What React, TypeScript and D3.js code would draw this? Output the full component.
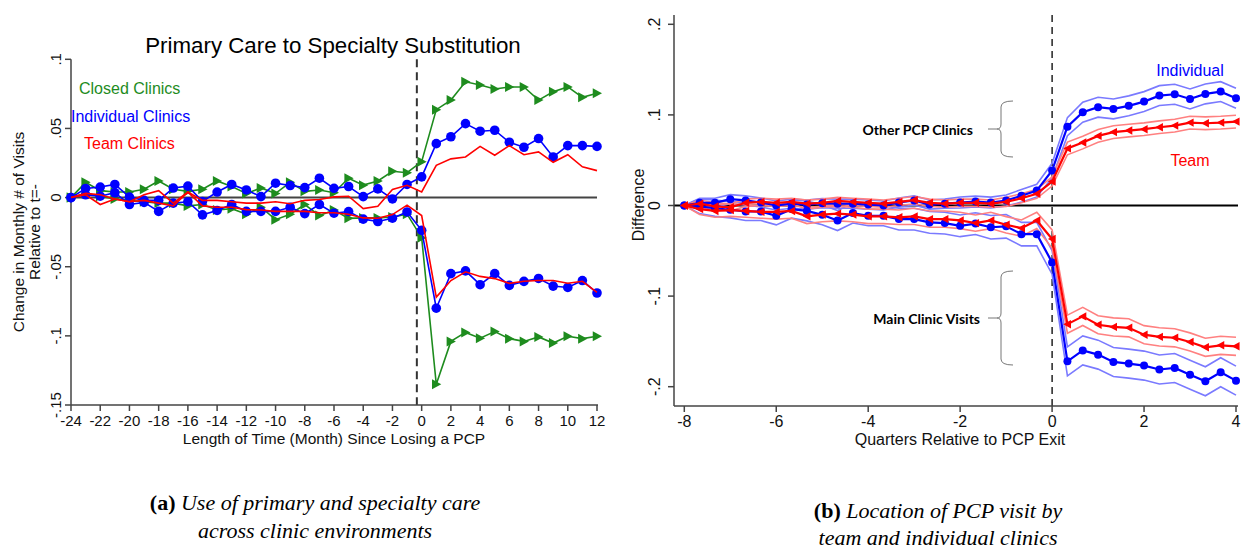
import React from "react";
import * as d3 from "d3";

// ---------- Panel (a): months relative to PCP loss ----------
const months = d3.range(-24, 13);
const leftYTicks = [0.1, 0.05, 0, -0.05, -0.1, -0.15];
const leftYTickLabels = [".1", ".05", "0", "-.05", "-.1", "-.15"];
const leftXTicks = d3.range(-24, 13, 2);

const closedUp = [0, 0.011, 0.005, 0.004, 0.004, 0.006, 0.012, 0.006, 0.0045, 0.006, 0.012, 0.008, 0.003, 0.007, 0.003, 0.011, 0.0045, 0.0055, 0.0035, 0.014, 0.009, 0.012, 0.019, 0.018,
  0.026, 0.0636, 0.0705, 0.0837, 0.0814, 0.0785, 0.08, 0.08, 0.0705, 0.0765, 0.08, 0.0725, 0.0754];
const closedDown = [0, 0.003, 0.001, -0.001, -0.002, -0.003, -0.004, -0.004, -0.006, -0.005, -0.009, -0.008, -0.012, -0.007, -0.016, -0.012, -0.005, -0.013, -0.009, -0.015, -0.0147, -0.0147, -0.014, -0.012,
  -0.029, -0.135, -0.104, -0.0975, -0.1017, -0.0969, -0.102, -0.104, -0.1008, -0.1052, -0.1003, -0.102, -0.1003];
const indivUp = [0, 0.0066, 0.0076, 0.0095, 0.0004, -0.002, -0.002, 0.0069, 0.0083, -0.0028, 0.004, 0.0095, 0.0055, 0.0007, 0.0104, 0.0087, 0.0072, 0.014, 0.0067, 0.008, 0.0007, 0.0063, -0.001, 0.0095,
  0.015, 0.039, 0.044, 0.0535, 0.048, 0.0487, 0.04, 0.0364, 0.0427, 0.0294, 0.0376, 0.0376, 0.037];
const indivDown = [0, 0.002, 0.001, 0.0035, -0.005, -0.0035, -0.01, -0.004, -0.003, -0.0125, -0.0093, -0.005, -0.01, -0.01, -0.01, -0.007, -0.0116, -0.005, -0.0113, -0.0101, -0.0156, -0.0173, -0.0149, -0.0104,
  -0.0237, -0.08, -0.055, -0.053, -0.063, -0.055, -0.0635, -0.0606, -0.0585, -0.064, -0.065, -0.06, -0.069];
const teamUp = [0, 0.003, 0.002, -0.001, -0.003, 0.002, 0.005, -0.004, 0.004, -0.002, -0.002, -0.003, -0.004, -0.004, -0.003, -0.0045, -0.002, -0.0014, 0.0005, 0.001, -0.008, -0.0063, 0.0058, 0.0089,
  0.0041, 0.0233, 0.028, 0.0294, 0.037, 0.0306, 0.0376, 0.031, 0.033, 0.0255, 0.031, 0.0222, 0.0195];
const teamDown = [0, 0.002, -0.005, -0.001, -0.003, -0.002, -0.004, -0.006, 0.004, -0.006, -0.007, -0.007, -0.0087, -0.009, -0.01, -0.01, -0.01, -0.011, -0.011, -0.012, -0.0147, -0.015, -0.0123, -0.0055,
  -0.013, -0.072, -0.06, -0.0537, -0.057, -0.0586, -0.062, -0.0605, -0.06, -0.06, -0.062, -0.0605, -0.0685];

// ---------- Panel (b): quarters relative to PCP exit ----------
const quarters = months.map((m) => m / 3);
const rightXTicks = [-8, -6, -4, -2, 0, 2, 4];
const rightYTicks = [0.2, 0.1, 0, -0.1, -0.2];
const rightYTickLabels = [".2", ".1", "0", "-.1", "-.2"];

const indOther = [0, 0.003, 0.003, 0.007, 0.0056, 0.0033, 0, 0.002, 0.001, 0.0026, 0.002, 0.002, 0.001, 0, 0.0033, 0.0056, 0.001, 0.002, 0.0033, 0.0044, 0.0033, 0.0055, 0.0107, 0.0165,
  0.0386, 0.087, 0.103, 0.1085, 0.1066, 0.11, 0.1147, 0.1213, 0.1228, 0.1176, 0.1232, 0.1257, 0.1184];
const indOtherCI = [0, 0.005, 0.005, 0.005, 0.005, 0.005, 0.005, 0.005, 0.005, 0.005, 0.005, 0.005, 0.005, 0.005, 0.005, 0.005, 0.005, 0.005, 0.006, 0.006, 0.006, 0.006, 0.007, 0.007,
  0.008, 0.01, 0.011, 0.011, 0.011, 0.011, 0.011, 0.011, 0.011, 0.011, 0.011, 0.011, 0.011];
const teamOther = [0, 0.002, -0.001, -0.002, 0.003, 0.004, 0.003, 0.004, 0.002, 0.003, 0.005, 0.004, 0.003, 0.002, 0.004, 0.006, 0.003, 0.002, 0.003, 0.003, 0.002, 0.004, 0.008, 0.013,
  0.0265, 0.063, 0.0695, 0.0768, 0.081, 0.0827, 0.0842, 0.0864, 0.0882, 0.0915, 0.0908, 0.0915, 0.0926];
const teamOtherCI = [0, 0.004, 0.004, 0.004, 0.004, 0.004, 0.004, 0.004, 0.004, 0.004, 0.004, 0.004, 0.004, 0.004, 0.004, 0.004, 0.004, 0.004, 0.004, 0.004, 0.004, 0.005, 0.005, 0.005,
  0.005, 0.007, 0.007, 0.007, 0.007, 0.007, 0.007, 0.007, 0.007, 0.007, 0.007, 0.007, 0.007];
const indMain = [0, -0.001, -0.003, -0.0047, -0.0066, -0.0066, -0.0114, -0.004, -0.006, -0.0103, -0.0166, -0.0084, -0.0114, -0.0114, -0.015, -0.015, -0.0187, -0.0194, -0.0224, -0.02, -0.024, -0.023, -0.0316, -0.0316,
  -0.0628, -0.172, -0.16, -0.1646, -0.1727, -0.1745, -0.1767, -0.181, -0.1793, -0.1867, -0.194, -0.184, -0.1933];
const indMainCI = [0, 0.008, 0.009, 0.009, 0.01, 0.01, 0.01, 0.01, 0.011, 0.011, 0.011, 0.011, 0.011, 0.011, 0.012, 0.012, 0.012, 0.012, 0.012, 0.012, 0.013, 0.013, 0.013, 0.013,
  0.013, 0.016, 0.016, 0.016, 0.016, 0.016, 0.016, 0.016, 0.016, 0.016, 0.016, 0.016, 0.016];
const teamMain = [0, -0.004, -0.006, -0.005, -0.006, -0.007, -0.007, -0.006, -0.012, -0.01, -0.009, -0.01, -0.012, -0.012, -0.013, -0.012, -0.015, -0.015, -0.0165, -0.0194, -0.0165, -0.0213, -0.025, -0.0165,
  -0.037, -0.131, -0.1224, -0.1316, -0.134, -0.135, -0.1426, -0.145, -0.146, -0.1506, -0.1565, -0.1543, -0.1554];
const teamMainCI = [0, 0.006, 0.007, 0.007, 0.007, 0.007, 0.008, 0.008, 0.008, 0.008, 0.008, 0.008, 0.008, 0.008, 0.008, 0.009, 0.009, 0.009, 0.009, 0.009, 0.009, 0.009, 0.009, 0.009,
  0.01, 0.01, 0.01, 0.01, 0.01, 0.01, 0.01, 0.01, 0.01, 0.01, 0.01, 0.01, 0.01];

const SANS = "'Liberation Sans', Arial, sans-serif";
const SERIF = "'Liberation Serif', 'Times New Roman', serif";
const BOLDSANS = "Lato, 'Open Sans', sans-serif";
const GREEN = "#1e8c1e";
const BLUE = "#0000ff";
const RED = "#ff0000";
const LBLUE = "#7a7aff";
const LRED = "#ff8080";

const xL = d3.scaleLinear().domain([-24, 12]).range([71, 597]);
const yL = d3.scaleLinear().domain([-0.15, 0.1]).range([405, 59.3]);
const xR = d3.scaleLinear().domain([-8, 4]).range([684.3, 1236]);
const yR = d3.scaleLinear().domain([-0.2, 0.2]).range([386.7, 24.3]);

const lineL = (vals: number[]) =>
  d3.line<number>().x((_, i) => xL(months[i])).y((d) => yL(d))(vals) as string;
const lineR = (vals: number[]) =>
  d3.line<number>().x((_, i) => xR(quarters[i])).y((d) => yR(d))(vals) as string;

const triRight = (x: number, y: number, s: number) =>
  `M${x - s * 0.85},${y - s}L${x + s},${y}L${x - s * 0.85},${y + s}Z`;
const triLeft = (x: number, y: number, s: number) =>
  `M${x + s * 0.85},${y - s}L${x - s},${y}L${x + s * 0.85},${y + s}Z`;

function Brace({ x, y0, y1, tipX }: { x: number; y0: number; y1: number; tipX: number }) {
  const ym = (y0 + y1) / 2;
  const r = 12;
  const d = `M${x + r},${y0} Q${x},${y0} ${x},${y0 + 6} L${x},${ym - 5} Q${x},${ym} ${x - 4},${ym} Q${x},${ym} ${x},${ym + 5} L${x},${y1 - 6} Q${x},${y1} ${x + r},${y1}`;
  return (
    <g fill="none" stroke="#777" strokeWidth={1}>
      <path d={d} />
      <line x1={tipX} x2={x - 4} y1={ym} y2={ym} />
    </g>
  );
}

export default function App() {
  const leftSeries = [
    { vals: closedUp, color: GREEN, marker: "tri" },
    { vals: closedDown, color: GREEN, marker: "tri" },
    { vals: indivUp, color: BLUE, marker: "circle" },
    { vals: indivDown, color: BLUE, marker: "circle" },
    { vals: teamUp, color: RED, marker: "none" },
    { vals: teamDown, color: RED, marker: "none" },
  ];
  const rightBands = [
    { vals: indOther, ci: indOtherCI, color: LBLUE },
    { vals: indMain, ci: indMainCI, color: LBLUE },
    { vals: teamOther, ci: teamOtherCI, color: LRED },
    { vals: teamMain, ci: teamMainCI, color: LRED },
  ];
  const rightMain = [
    { vals: indOther, color: BLUE, marker: "circle" },
    { vals: indMain, color: BLUE, marker: "circle" },
    { vals: teamOther, color: RED, marker: "tri" },
    { vals: teamMain, color: RED, marker: "tri" },
  ];

  return (
    <svg
      width={1241}
      height={549}
      style={{ position: "absolute", left: 0, top: 0, background: "#fff" }}
      fontFamily={SANS}
    >
      <rect x={0} y={0} width={1241} height={549} fill="#fff" />

      {/* ================= Panel (a) ================= */}
      <text x={333} y={45} fontSize={22.3} textAnchor="middle" dominantBaseline="central" fill="#000">
        Primary Care to Specialty Substitution
      </text>

      <line x1={xL(-24)} x2={xL(12)} y1={yL(0)} y2={yL(0)} stroke="#444" strokeWidth={2} />
      <line x1={xL(-0.33)} x2={xL(-0.33)} y1={yL(0.1)} y2={yL(-0.15)} stroke="#333" strokeWidth={2} strokeDasharray="8 5" />

      <line x1={71} x2={71} y1={yL(0.1)} y2={yL(-0.15)} stroke="#444" strokeWidth={1.5} />
      <line x1={71} x2={598} y1={405} y2={405} stroke="#444" strokeWidth={1.5} />
      {leftYTicks.map((t, i) => (
        <g key={"ly" + i}>
          <line x1={65} x2={71} y1={yL(t)} y2={yL(t)} stroke="#444" strokeWidth={1.5} />
          <text transform={`translate(56,${yL(t)}) rotate(-90)`} dy="0.35em" fontSize={15} textAnchor="middle" fill="#111">
            {leftYTickLabels[i]}
          </text>
        </g>
      ))}
      {leftXTicks.map((t) => (
        <g key={"lx" + t}>
          <line x1={xL(t)} x2={xL(t)} y1={405} y2={411} stroke="#444" strokeWidth={1.5} />
          <text x={xL(t)} y={421} dy="0.35em" fontSize={15} textAnchor="middle" fill="#111">
            {t}
          </text>
        </g>
      ))}
      <text x={334} y={439} dy="0.35em" fontSize={15.5} textAnchor="middle" fill="#111">
        Length of Time (Month) Since Losing a PCP
      </text>
      <text transform="translate(19,232) rotate(-90)" dy="0.35em" fontSize={15.5} textAnchor="middle" fill="#111">
        Change in Monthly # of Visits
      </text>
      <text transform="translate(35,232) rotate(-90)" dy="0.35em" fontSize={15.5} textAnchor="middle" fill="#111">
        Relative to t=-
      </text>

      {leftSeries.map((s, k) => (
        <g key={"ls" + k}>
          <path d={lineL(s.vals)} fill="none" stroke={s.color} strokeWidth={1.6} />
          {s.marker === "circle" &&
            s.vals.map((v, i) => <circle key={i} cx={xL(months[i])} cy={yL(v)} r={4.8} fill={s.color} />)}
          {s.marker === "tri" &&
            s.vals.map((v, i) => <path key={i} d={triRight(xL(months[i]), yL(v), 5)} fill={s.color} />)}
        </g>
      ))}

      <text x={79} y={88} dy="0.35em" fontSize={16} fill={GREEN}>Closed Clinics</text>
      <text x={71} y={116} dy="0.35em" fontSize={16} fill={BLUE}>Individual Clinics</text>
      <text x={84} y={143} dy="0.35em" fontSize={16} fill={RED}>Team Clinics</text>

      <text x={315} y={502} dy="0.35em" fontSize={22} textAnchor="middle" fontFamily={SERIF}>
        <tspan fontWeight="bold">(a)</tspan>
        <tspan fontStyle="italic"> Use of primary and specialty care</tspan>
      </text>
      <text x={315} y={530} dy="0.35em" fontSize={22} textAnchor="middle" fontFamily={SERIF} fontStyle="italic">
        across clinic environments
      </text>

      {/* ================= Panel (b) ================= */}
      <line x1={674} x2={1238} y1={yR(0)} y2={yR(0)} stroke="#000" strokeWidth={2} />
      <line x1={xR(0)} x2={xR(0)} y1={15} y2={406} stroke="#000" strokeWidth={1.3} strokeDasharray="7 5" />

      <line x1={674} x2={674} y1={15} y2={406} stroke="#444" strokeWidth={1.5} />
      <line x1={674} x2={1238} y1={406} y2={406} stroke="#444" strokeWidth={1.5} />
      {rightYTicks.map((t, i) => (
        <g key={"ry" + i}>
          <line x1={668} x2={674} y1={yR(t)} y2={yR(t)} stroke="#444" strokeWidth={1.5} />
          <text transform={`translate(654,${yR(t)}) rotate(-90)`} dy="0.35em" fontSize={16} textAnchor="middle" fill="#111">
            {rightYTickLabels[i]}
          </text>
        </g>
      ))}
      {rightXTicks.map((t) => (
        <g key={"rx" + t}>
          <line x1={xR(t)} x2={xR(t)} y1={406} y2={412} stroke="#444" strokeWidth={1.5} />
          <text x={xR(t)} y={421} dy="0.35em" fontSize={16} textAnchor="middle" fill="#111">
            {t}
          </text>
        </g>
      ))}
      <text x={960} y={439} dy="0.35em" fontSize={16} textAnchor="middle" fill="#111">
        Quarters Relative to PCP Exit
      </text>
      <text transform="translate(638,205) rotate(-90)" dy="0.35em" fontSize={16} textAnchor="middle" fill="#111">
        Difference
      </text>

      {rightBands.map((b, k) => (
        <g key={"rb" + k} fill="none" stroke={b.color} strokeWidth={1.6}>
          <path d={lineR(b.vals.map((v, i) => v + b.ci[i]))} />
          <path d={lineR(b.vals.map((v, i) => v - b.ci[i]))} />
        </g>
      ))}
      {rightMain.map((s, k) => (
        <g key={"rm" + k}>
          <path d={lineR(s.vals)} fill="none" stroke={s.color} strokeWidth={2.2} />
          {s.marker === "circle" &&
            s.vals.map((v, i) => <circle key={i} cx={xR(quarters[i])} cy={yR(v)} r={4} fill={s.color} />)}
          {s.marker === "tri" &&
            s.vals.map((v, i) => <path key={i} d={triLeft(xR(quarters[i]), yR(v), 4.2)} fill={s.color} />)}
        </g>
      ))}

      <text x={1190} y={70} dy="0.35em" fontSize={16} textAnchor="middle" fill={BLUE}>Individual</text>
      <text x={1190} y={160} dy="0.35em" fontSize={16} textAnchor="middle" fill={RED}>Team</text>

      <text x={973} y={130} dy="0.35em" fontSize={14} fontWeight="bold" textAnchor="end" fontFamily={BOLDSANS} fill="#000">
        Other PCP Clinics
      </text>
      <Brace x={1001} y0={101} y1={157} tipX={988} />
      <text x={980} y={319} dy="0.35em" fontSize={14} fontWeight="bold" textAnchor="end" fontFamily={BOLDSANS} fill="#000">
        Main Clinic Visits
      </text>
      <Brace x={1001} y0={271} y1={365} tipX={988} />

      <text x={938} y={510} dy="0.35em" fontSize={22} textAnchor="middle" fontFamily={SERIF}>
        <tspan fontWeight="bold">(b)</tspan>
        <tspan fontStyle="italic"> Location of PCP visit by</tspan>
      </text>
      <text x={938} y={537} dy="0.35em" fontSize={22} textAnchor="middle" fontFamily={SERIF} fontStyle="italic">
        team and individual clinics
      </text>
    </svg>
  );
}
